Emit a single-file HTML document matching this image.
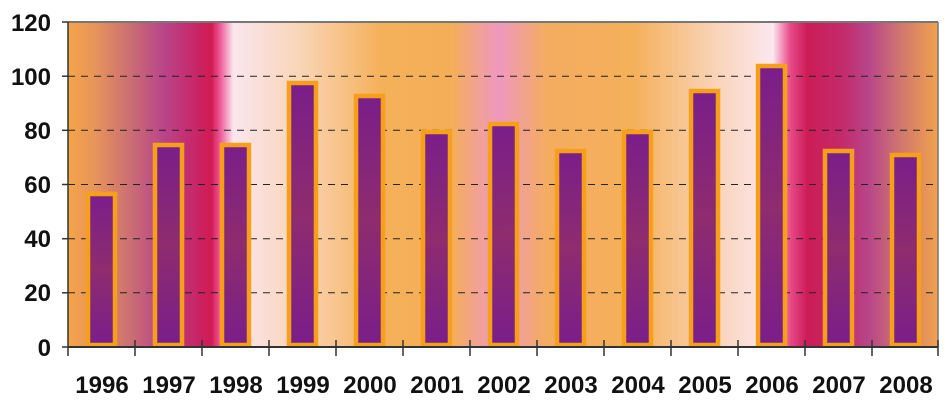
<!DOCTYPE html>
<html><head><meta charset="utf-8"><style>
html,body{margin:0;padding:0;background:#fff;}
svg{display:block;}
text{font-family:"Liberation Sans",Arial,sans-serif;font-weight:bold;fill:#111;}
</style></head><body>
<svg width="951" height="404" viewBox="0 0 951 404" xmlns="http://www.w3.org/2000/svg">
<defs>
<linearGradient id="bg" x1="68" x2="938" y1="0" y2="0" gradientUnits="userSpaceOnUse">
<stop offset="0" stop-color="#f4a448"/>
<stop offset="0.03" stop-color="#e8955a"/>
<stop offset="0.07" stop-color="#cc7072"/>
<stop offset="0.11" stop-color="#b8458a"/>
<stop offset="0.15" stop-color="#c82464"/>
<stop offset="0.165" stop-color="#d21a52"/>
<stop offset="0.175" stop-color="#ee5a98"/>
<stop offset="0.19" stop-color="#fbe6ee"/>
<stop offset="0.27" stop-color="#f9d4b4"/>
<stop offset="0.36" stop-color="#f5b05a"/>
<stop offset="0.44" stop-color="#f5ae58"/>
<stop offset="0.495" stop-color="#ef98c0"/>
<stop offset="0.55" stop-color="#f4ac60"/>
<stop offset="0.65" stop-color="#f5b05a"/>
<stop offset="0.74" stop-color="#f9d2b4"/>
<stop offset="0.81" stop-color="#fce8f0"/>
<stop offset="0.83" stop-color="#e84a8a"/>
<stop offset="0.85" stop-color="#cc1c56"/>
<stop offset="0.89" stop-color="#c42a6a"/>
<stop offset="0.92" stop-color="#b8458a"/>
<stop offset="0.96" stop-color="#d27a6c"/>
<stop offset="1" stop-color="#f2a24e"/>
</linearGradient>
<linearGradient id="bar" x1="0" x2="0" y1="0" y2="1">
<stop offset="0" stop-color="#7a1e8a"/>
<stop offset="0.5" stop-color="#8e2c6e"/>
<stop offset="1" stop-color="#7a1e8a"/>
</linearGradient>
</defs>
<rect x="68" y="22" width="870" height="325" fill="url(#bg)"/>
<line x1="68" y1="22" x2="938" y2="22" stroke="#777" stroke-width="2"/>
<line x1="938" y1="22" x2="938" y2="347" stroke="#777" stroke-width="1.5"/>
<g stroke="#222" stroke-width="1" stroke-dasharray="7,6">
<line x1="68" x2="938" y1="76.2" y2="76.2"/>
<line x1="68" x2="938" y1="130.3" y2="130.3"/>
<line x1="68" x2="938" y1="184.5" y2="184.5"/>
<line x1="68" x2="938" y1="238.7" y2="238.7"/>
<line x1="68" x2="938" y1="292.8" y2="292.8"/>
</g>
<g fill="url(#bar)" stroke="#f6a01a" stroke-width="4.5">
<rect x="88" y="194" width="27" height="151"/>
<rect x="155" y="145" width="27" height="200"/>
<rect x="222" y="145" width="27" height="200"/>
<rect x="289" y="83" width="27" height="262"/>
<rect x="356" y="96" width="27" height="249"/>
<rect x="423" y="132" width="27" height="213"/>
<rect x="490" y="124" width="27" height="221"/>
<rect x="557" y="151" width="27" height="194"/>
<rect x="624" y="132" width="27" height="213"/>
<rect x="691" y="91" width="27" height="254"/>
<rect x="758" y="66" width="27" height="279"/>
<rect x="825" y="151" width="27" height="194"/>
<rect x="892" y="155" width="27" height="190"/>
</g>
<line x1="68" y1="347" x2="938" y2="347" stroke="#333" stroke-width="2"/>
<line x1="68" y1="22" x2="68" y2="347" stroke="#333" stroke-width="1.5"/>
<g stroke="#333" stroke-width="1.5">
<line x1="62" x2="68" y1="22" y2="22"/>
<line x1="62" x2="68" y1="76.2" y2="76.2"/>
<line x1="62" x2="68" y1="130.3" y2="130.3"/>
<line x1="62" x2="68" y1="184.5" y2="184.5"/>
<line x1="62" x2="68" y1="238.7" y2="238.7"/>
<line x1="62" x2="68" y1="292.8" y2="292.8"/>
<line x1="62" x2="68" y1="347" y2="347"/>
<line x1="68" x2="68" y1="347" y2="356"/>
<line x1="135" x2="135" y1="340" y2="356"/>
<line x1="202" x2="202" y1="340" y2="356"/>
<line x1="269" x2="269" y1="340" y2="356"/>
<line x1="336" x2="336" y1="340" y2="356"/>
<line x1="403" x2="403" y1="340" y2="356"/>
<line x1="470" x2="470" y1="340" y2="356"/>
<line x1="537" x2="537" y1="340" y2="356"/>
<line x1="604" x2="604" y1="340" y2="356"/>
<line x1="671" x2="671" y1="340" y2="356"/>
<line x1="738" x2="738" y1="340" y2="356"/>
<line x1="805" x2="805" y1="340" y2="356"/>
<line x1="872" x2="872" y1="340" y2="356"/>
<line x1="938" x2="938" y1="340" y2="356"/>
</g>
<g font-size="24" text-anchor="end">
<text x="51" y="31">120</text>
<text x="51" y="85">100</text>
<text x="51" y="139">80</text>
<text x="51" y="193">60</text>
<text x="51" y="247">40</text>
<text x="51" y="301">20</text>
<text x="51" y="356">0</text>
</g>
<g font-size="24" text-anchor="middle">
<text x="102" y="393">1996</text>
<text x="169" y="393">1997</text>
<text x="236" y="393">1998</text>
<text x="303" y="393">1999</text>
<text x="370" y="393">2000</text>
<text x="437" y="393">2001</text>
<text x="504" y="393">2002</text>
<text x="571" y="393">2003</text>
<text x="638" y="393">2004</text>
<text x="705" y="393">2005</text>
<text x="772" y="393">2006</text>
<text x="839" y="393">2007</text>
<text x="906" y="393">2008</text>
</g>
</svg>
</body></html>
